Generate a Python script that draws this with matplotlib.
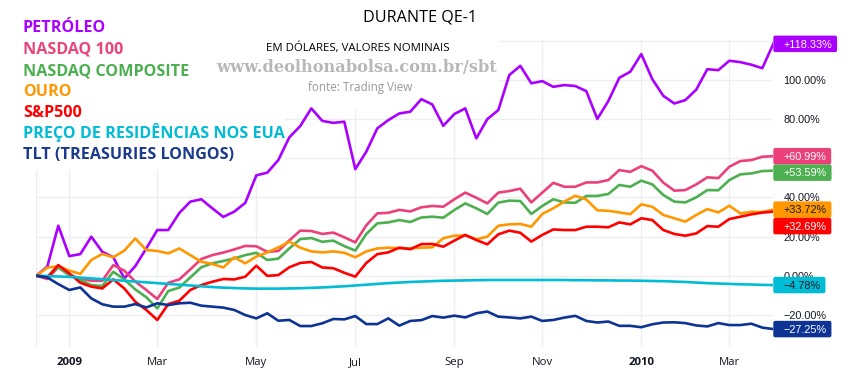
import matplotlib

matplotlib.use("Agg")
import matplotlib.pyplot as plt
import numpy as np
from matplotlib.patches import FancyBboxPatch, Rectangle
from matplotlib.transforms import IdentityTransform

# weekly % change since the start of QE-1
petroleo = [0, 4.6, 25.5, 10.0, 11.0, 19.9, 12.2, 9.4, -1.4, 4.9, 13.9, 23.3, 23.3, 32.0,
            37.8, 39.0, 34.4, 30.0, 32.7, 37.2, 51.2, 52.6, 59.0, 70.6, 76.4, 85.4, 79.0,
            78.0, 78.6, 54.4, 63.3, 75.2, 79.4, 82.8, 83.7, 90.1, 87.4, 76.5, 82.5, 85.4,
            70.1, 79.9, 84.5, 102.4, 107.1, 98.2, 99.3, 96.4, 97.3, 96.8, 94.2, 80.0, 89.1,
            101.0, 104.1, 113.1, 100.3, 91.8, 87.9, 89.6, 95.0, 105.4, 104.9, 109.7, 109.0,
            107.7, 105.9, 118.33]
nasdaq100 = [0, -1.7, 4.3, 0.3, -1.4, -2.6, -2.6, 5.4, 2.6, -3.0, -7.3, -11.9, -3.6, -1.9,
             3.2, 8.5, 10.5, 11.8, 13.4, 15.2, 15.0, 12.2, 12.6, 18.0, 23.0, 22.8, 21.3, 22.0,
             19.6, 17.0, 25.7, 31.8, 32.1, 33.6, 32.8, 34.9, 35.6, 35.2, 39.0, 42.4, 39.8,
             36.9, 42.4, 43.2, 44.4, 37.4, 42.4, 47.4, 45.4, 45.4, 47.6, 47.6, 48.8, 53.9,
             53.0, 55.9, 53.6, 47.5, 43.4, 43.7, 46.6, 50.2, 49.8, 55.6, 58.5, 59.0, 60.7,
             60.99]
composite = [0, -0.5, 4.3, 0.3, -2.2, -4.8, -5.3, 2.0, -1.9, -7.0, -11.0, -16.7, -7.8, -6.1,
             -0.9, 4.3, 6.3, 7.5, 8.8, 10.5, 11.7, 8.0, 8.7, 13.9, 18.7, 19.2, 17.3, 17.9,
             15.1, 12.8, 21.3, 26.7, 27.2, 28.4, 27.4, 29.7, 30.1, 29.6, 33.5, 36.9, 34.4,
             31.5, 37.3, 38.3, 38.1, 31.5, 35.6, 39.0, 37.4, 37.2, 40.7, 40.7, 41.7, 46.3,
             45.4, 48.5, 46.6, 41.2, 37.8, 37.4, 40.0, 43.7, 43.6, 48.8, 51.7, 52.2, 53.4,
             53.59]
ouro = [0, 4.1, 4.9, 2.6, 0.9, 8.0, 11.1, 9.4, 12.8, 19.0, 13.1, 12.6, 11.4, 13.9, 10.5,
        7.1, 6.0, 4.2, 9.4, 6.3, 9.8, 11.9, 14.4, 17.4, 14.3, 12.4, 11.9, 12.4, 11.7, 9.4,
        12.4, 13.9, 14.3, 14.0, 14.0, 14.3, 14.5, 19.1, 20.4, 20.6, 18.6, 19.9, 25.5, 26.2,
        26.4, 25.0, 31.5, 34.4, 37.8, 40.8, 38.9, 33.4, 33.1, 32.3, 31.4, 36.4, 35.2, 31.0,
        29.3, 27.6, 31.0, 34.0, 32.3, 35.7, 31.8, 32.6, 32.5, 33.72]
sp500 = [0, -0.9, 5.4, 1.2, -3.6, -5.6, -6.5, -1.9, -6.5, -13.3, -17.5, -22.6, -14.5, -12.8,
         -7.3, -4.8, -3.1, -1.7, -1.9, -0.5, 5.1, -0.1, 0.3, 4.3, 6.5, 7.0, 4.2, 3.8, 1.5,
         -0.5, 6.5, 11.0, 11.9, 14.3, 13.5, 16.1, 16.2, 14.8, 17.9, 20.8, 18.2, 16.0, 21.1,
         23.0, 21.9, 17.4, 20.8, 23.6, 23.3, 23.3, 25.0, 25.0, 24.7, 27.2, 26.2, 29.3, 28.4,
         23.3, 21.3, 20.4, 21.6, 25.3, 25.0, 28.9, 30.1, 31.3, 32.2, 32.69]
residencias = [0, -0.2, -0.4, -0.6, -1.0, -1.4, -1.8, -2.2, -2.6, -3.0, -3.4, -3.8, -4.2,
               -4.6, -5.0, -5.4, -5.8, -6.1, -6.3, -6.5, -6.6, -6.6, -6.6, -6.5, -6.4, -6.2,
               -6.0, -5.7, -5.4, -5.0, -4.6, -4.2, -3.8, -3.5, -3.2, -3.0, -2.8, -2.6, -2.5,
               -2.4, -2.3, -2.2, -2.2, -2.2, -2.2, -2.2, -2.2, -2.2, -2.2, -2.3, -2.3, -2.4,
               -2.4, -2.5, -2.5, -2.6, -2.7, -2.8, -3.0, -3.2, -3.5, -3.8, -4.0, -4.2, -4.4,
               -4.5, -4.7, -4.78]
tlt = [0, -0.9, -4.3, -7.3, -6.0, -11.6, -14.6, -15.8, -15.8, -14.5, -16.2, -14.1, -15.0,
       -14.1, -13.8, -15.3, -15.8, -16.3, -17.5, -20.1, -21.8, -19.2, -23.0, -22.6, -25.7,
       -25.7, -24.3, -22.1, -22.3, -20.6, -24.7, -24.7, -21.8, -25.5, -23.1, -22.7, -20.6,
       -21.4, -20.4, -21.3, -19.2, -18.3, -20.9, -21.3, -21.8, -20.9, -23.1, -22.6, -21.4,
       -20.5, -23.1, -23.9, -23.4, -25.6, -25.6, -26.3, -24.8, -23.9, -23.8, -24.2, -25.4,
       -25.9, -24.2, -25.2, -25.2, -24.5, -26.5, -27.25]

names = ["PETRÓLEO", "NASDAQ 100", "NASDAQ COMPOSITE", "OURO", "S&P500",
         "PREÇO DE RESIDÊNCIAS NOS EUA", "TLT (TREASURIES LONGOS)"]
colors = ["#aa00ff", "#ec407a", "#4caf50", "#ff9800", "#ff0000", "#00bcd4", "#0d3494"]
label_text_colors = ["white", "white", "white", "#131722", "white", "#131722", "white"]

month_ticks = [0, 3, 11, 20, 29, 38, 46, 55, 63]  # weekly bar index
month_labels = ["", "2009", "Mar", "May", "Jul", "Sep", "Nov", "2010", "Mar"]
y_ticks = [-20, 0, 20, 40, 60, 80, 100, 120]
hidden_y_labels = [60, 120]  # fully covered by the last-value boxes

W, H = 850, 375


def fx(px):
    return px / W


def fy(py):
    return 1 - py / H


def pct(v):
    return f"{v:.2f}%".replace("-", "\u2212")


def spread(values, gap):
    """Push overlapping last-value labels downwards."""
    order = np.argsort(values)[::-1]
    pos = list(values)
    prev = None
    for i in order:
        if prev is not None and pos[i] > prev - gap:
            pos[i] = prev - gap
        prev = pos[i]
    return pos


fig = plt.figure(figsize=(8.5, 3.75), dpi=100)
ax = fig.add_axes([fx(36.3), fy(347), (773.3 - 36.3) / W, (347 - 40) / H])

series = [petroleo, nasdaq100, composite, ouro, sp500, residencias, tlt]
x = np.arange(len(petroleo))
for vals, color in zip(series, colors):
    ax.plot(x, vals, color=color, lw=1.9, zorder=2)

ax.set_xlim(0, len(petroleo) - 1)
ax.set_ylim(-36.4, 120.3)
for s in ax.spines.values():
    s.set_visible(False)
ax.set_axisbelow(True)
ax.grid(True, color="#eceef2", lw=1)

ax.set_xticks(month_ticks)
ax.set_xticklabels(month_labels, family="Open Sans", fontsize=8.2, color="#131722")
for lbl in ax.get_xticklabels():
    if lbl.get_text().isdigit():
        lbl.set_fontweight("bold")
ax.tick_params(axis="x", length=0, pad=7)

ax.yaxis.tick_right()
ax.set_yticks(y_ticks)
ax.set_yticklabels(["" if v in hidden_y_labels else pct(v) for v in y_ticks],
                   family="Liberation Sans", fontsize=7.8, color="#131722")
ax.tick_params(axis="y", length=0, pad=7.2)

# white areas of the pasted legend/title image hide the grid there
ax.add_patch(Rectangle((0, 0.5765), 0.3375, 0.43, transform=ax.transAxes, fc="white",
                       ec="none", zorder=1))
ax.add_patch(Rectangle((0.3375, 0.772), 0.29, 0.23, transform=ax.transAxes, fc="white",
                       ec="none", zorder=1))

# last-value labels on the price scale
last = [s[-1] for s in series]
label_pos = spread(last, 8.4)
texts = []
for v, p, tc in zip(last, label_pos, label_text_colors):
    sign = "+" if v > 0 else ""
    t = ax.annotate(sign + pct(v), xy=(1, p), xycoords=("axes fraction", "data"),
                    xytext=(7.2, -0.5), textcoords="offset points", ha="left",
                    va="center", fontsize=7.8, family="Liberation Sans", color=tc,
                    zorder=6, annotation_clip=False)
    texts.append(t)

fig.canvas.draw()
renderer = fig.canvas.get_renderer()
x0 = ax.get_window_extent(renderer).x1
for t, p, color in zip(texts, label_pos, colors):
    bb = t.get_window_extent(renderer)
    yc = ax.transData.transform((0, p))[1]
    box = FancyBboxPatch((x0, yc - 8.25), bb.x1 + 5 - x0, 16.5,
                         boxstyle="round,pad=0,rounding_size=2", transform=IdentityTransform(),
                         fc=color, ec="none", zorder=5, clip_on=False)
    ax.add_artist(box)

# header texts
fig.text(fx(420), fy(18), "DURANTE QE-1", ha="center", va="center", family="Open Sans",
         fontsize=11.6, color="black")
fig.text(fx(266), fy(48), "EM DÓLARES, VALORES NOMINAIS", ha="left", va="center",
         family="Open Sans", fontsize=8.2, color="black")
fig.text(fx(216), fy(67), "www.deolhonabolsa.com.br/sbt", ha="left", va="center",
         family="DejaVu Serif", fontweight="bold", fontsize=11.7, color="#b8b8b8")
fig.text(fx(308), fy(88), "fonte: Trading View", ha="left", va="center", family="Open Sans",
         fontsize=8.4, color="#999999")

# legend block
legend_y = [28, 50, 71, 92, 113, 133, 155]
legend_colors = ["#aa00ff", "#e9457a", "#4caf50", "#ff9800", "#ff0000", "#00bcd4", "#1a3a8c"]
for name, py, c in zip(names, legend_y, legend_colors):
    fig.text(fx(23), fy(py), name, ha="left", va="center", family="Open Sans",
             fontweight="bold", fontsize=11.6, color=c)

fig.savefig("out.png", dpi=100)
